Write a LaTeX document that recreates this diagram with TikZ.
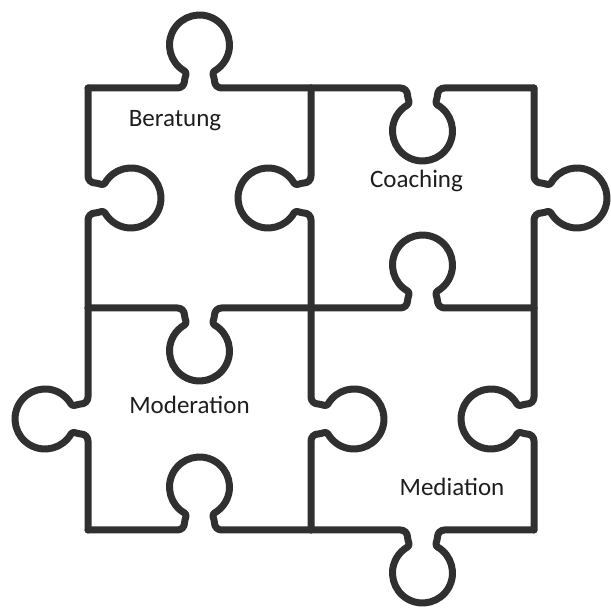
\documentclass[tikz,border=0pt]{standalone}
\usepackage{fontspec}
\setmainfont{Carlito}
\definecolor{edgegray}{HTML}{303030}
\definecolor{textgray}{HTML}{1E1E1E}
% one edge of the puzzle: centre (#1,#2), knob protruding along local +y after rotation #3, half length #4
\newcommand\pzedge[4]{%
  \draw[edge,shift={(#1,#2)},rotate=#3]
    (-#4,0) -- (-22,0) to[out=0,in=-90] (-15,7) to[out=90,in=-30] (-15,17.0)
    arc[start angle=240,end angle=-60,radius=30]
    to[out=210,in=90] (15,7) to[out=-90,in=180] (22,0) -- (#4,0);}
\begin{document}
\begin{tikzpicture}[x=1pt,y=1pt,
  edge/.style={draw=edgegray,line width=7pt,line cap=round,line join=round},
  lbl/.style={font=\fontsize{25}{30}\selectfont,text=textgray,anchor=base,inner sep=0pt}]
\useasboundingbox (0,0) rectangle (611,609);
\fill[white] (0,0) rectangle (611,609);
% top row horizontal edges
\pzedge{199.5}{521}{0}{111.5}
\pzedge{422.5}{521}{180}{111.5}
% middle horizontal edges
\pzedge{199.5}{301}{180}{111.5}
\pzedge{422.5}{301}{0}{111.5}
% bottom horizontal edges
\pzedge{199.5}{79}{0}{111.5}
\pzedge{422.5}{79}{180}{111.5}
% upper vertical edges
\pzedge{88}{411}{-90}{110}
\pzedge{311}{411}{90}{110}
\pzedge{534}{411}{-90}{110}
% lower vertical edges
\pzedge{88}{190}{90}{111}
\pzedge{311}{190}{-90}{111}
\pzedge{534}{190}{90}{111}
% labels
\node[lbl] (beratung) at (175,482) {Beratung};
\node[lbl] (coaching) at (416.5,421) {Coaching};
\node[lbl] (moderation) at (189.5,195) {Moderation};
\node[lbl] (mediation) at (452,113) {Mediation};
\end{tikzpicture}
\end{document}
